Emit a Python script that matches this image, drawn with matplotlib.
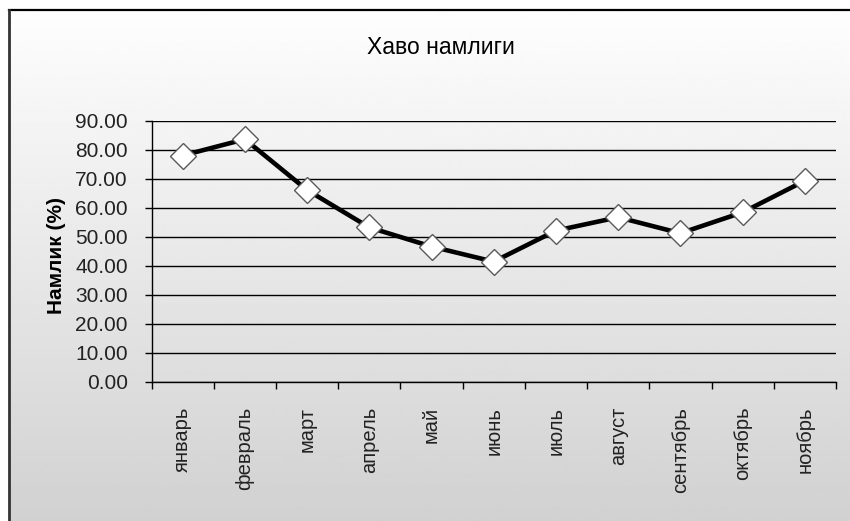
import numpy as np
import matplotlib
matplotlib.use("Agg")
import matplotlib.pyplot as plt
from matplotlib.lines import Line2D

plt.rcParams['font.family'] = ['Liberation Sans', 'DejaVu Sans']

months = ["январь", "февраль", "март", "апрель", "май", "июнь",
          "июль", "август", "сентябрь", "октябрь", "ноябрь"]
humidity = [78.0, 83.6, 66.1, 53.2, 46.6, 41.4, 52.1, 56.7, 51.2, 58.4, 69.3]
y_ticks = [0, 10, 20, 30, 40, 50, 60, 70, 80, 90]

title = "Хаво намлиги"
y_label = "Намлик (%)"

W, H = 850, 521
fig = plt.figure(figsize=(W / 100, H / 100), dpi=100)
fig.patch.set_facecolor("white")

# chart area with vertical gradient background
left_px, top_px = 9, 10
bg = fig.add_axes([left_px / W, 0, 1 - left_px / W, 1 - top_px / H], zorder=0)
grad = np.linspace(0.995, 0.82, 256).reshape(-1, 1)
bg.imshow(grad, cmap="gray", vmin=0, vmax=1, aspect="auto",
          extent=[0, 1, 0, 1], origin="upper")
bg.set_xlim(0, 1)
bg.set_ylim(0, 1)
bg.axis("off")

# frame: only the top and left edges fall inside the figure
fig.add_artist(Line2D([left_px / W, 1], [1 - top_px / H, 1 - top_px / H],
                      color="black", lw=1.6, transform=fig.transFigure))
fig.add_artist(Line2D([left_px / W, left_px / W], [0, 1 - top_px / H],
                      color="#333333", lw=2.0, transform=fig.transFigure))

ax = fig.add_axes([151.5 / W, 1 - 381.7 / H, (836 - 151.5) / W, (381.7 - 120.7) / H], zorder=1)
ax.patch.set_alpha(0)

x = np.arange(len(months))
ax.plot(x, humidity, color="black", lw=3.3, zorder=3,
        marker="D", markersize=13.5, markerfacecolor="white",
        markeredgecolor="#5a5a5a", markeredgewidth=1.0)

ax.set_xlim(-0.5, len(months) - 0.5)
ax.set_ylim(0, 90)
ax.set_yticks(y_ticks)
ax.set_yticklabels([f"{v:.2f}" for v in y_ticks], fontsize=15, color="#222222")
ax.yaxis.grid(True, color="black", lw=1.0)
ax.set_axisbelow(True)

ax.set_xticks(x)
ax.set_xticklabels(months, rotation=90, fontsize=14.5, color="#222222", va="top")
ax.tick_params(axis="x", which="major", length=0, pad=18)
ax.set_xticks(np.arange(len(months) + 1) - 0.5, minor=True)
ax.tick_params(axis="x", which="minor", length=5, width=1, direction="out")
ax.tick_params(axis="y", length=5, width=1, direction="out", pad=12)

for s in ["top", "right"]:
    ax.spines[s].set_visible(False)
ax.spines["left"].set_linewidth(1)
ax.spines["bottom"].set_linewidth(1)

ax.set_ylabel(y_label, fontsize=15, fontweight="bold")
ax.yaxis.set_label_coords(66 / W, 1 - 255 / H, transform=fig.transFigure)
fig.text(441 / W, 1 - 47 / H, title, ha="center", va="center", fontsize=16.5)

fig.savefig("out.png", dpi=100)
